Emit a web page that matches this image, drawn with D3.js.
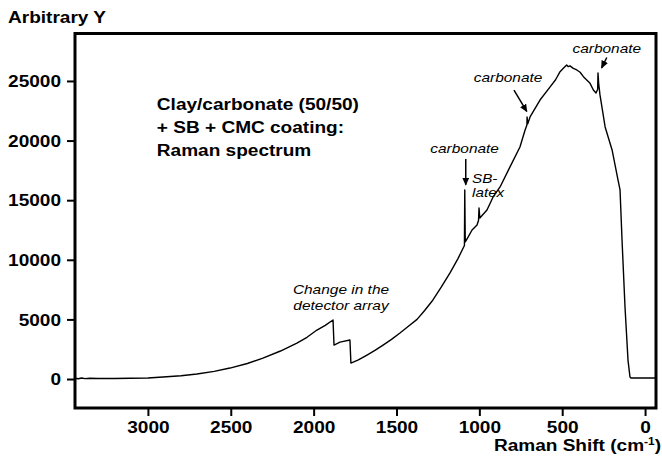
<!DOCTYPE html>
<html>
<head>
<meta charset="utf-8">
<script src="https://cdn.jsdelivr.net/npm/d3@7"></script>
<style>
body { margin: 0; background: #fff; }
svg { display: block; }
text { font-family: "Liberation Sans", Arial, sans-serif; fill: #000; }
.bold { font-weight: bold; font-size: 16px; }
.note { font-style: italic; font-size: 13px; }
.small { font-style: italic; font-size: 12px; }
</style>
</head>
<body>
<div id="chart"></div>
<script>
// spectrum: Raman shift (cm-1) and intensity
var ramanShift = [3440, 3420, 3400, 3380, 3350, 3300, 3200, 3109, 3000, 2909, 2800, 2704, 2600, 2505,
	2400, 2306, 2200, 2101, 2040, 1980, 1930, 1883, 1877, 1841, 1781, 1775, 1730, 1678, 1630, 1581,
	1530, 1479, 1430, 1376, 1330, 1280, 1230, 1177, 1129, 1090, 1088, 1085, 1068, 1044, 1014, 1005,
	1002, 997, 954, 917, 875, 815, 755, 724, 713, 712, 708, 694, 634, 573, 540, 513, 493, 473,
	463, 453, 433, 412, 392, 372, 352, 332, 312, 296, 286, 284, 280, 272, 241, 199, 163, 151, 139, 121,
	103, 91, 85, -66];
var intensity = [60, 20, 90, 30, 70, 40, 50, 60, 90, 170, 280, 420, 640, 920,
	1300, 1760, 2350, 3020, 3500, 4110, 4500, 4950, 2850, 3100, 3270, 1340, 1600, 2010, 2400, 2850,
	3330, 3860, 4400, 5000, 5750, 6630, 7700, 8900, 10100, 11200, 15860, 11500, 11900, 12500, 12920, 13300,
	14350, 13500, 14180, 15270, 16110, 17790, 19460, 20890, 21300, 21980, 21400, 21980, 23400, 24500, 25100, 25780, 26060, 26340,
	26200, 26260, 26060, 25920, 25730, 25360, 25080, 24800, 24240, 23990, 24300, 25670, 24800, 23830, 21140, 19210, 16690, 15860, 11660, 6040,
	1590, 170, 80, 80];

var xTicks = [3000, 2500, 2000, 1500, 1000, 500, 0];
var yTicks = [0, 5000, 10000, 15000, 20000, 25000];
var titleLines = ["Clay/carbonate (50/50)", "+ SB + CMC coating:", "Raman spectrum"];
var detectorLines = ["Change in the", "detector array"];
var latexLines = ["SB-", "latex"];

var SX = 1.19; // the original lettering is stretched sideways

var svg = d3.select("#chart").append("svg")
	.attr("width", 662)
	.attr("height", 460);

svg.append("defs").append("marker")
	.attr("id", "head")
	.attr("markerUnits", "userSpaceOnUse")
	.attr("markerWidth", 8)
	.attr("markerHeight", 7)
	.attr("refX", 7)
	.attr("refY", 3.5)
	.attr("orient", "auto")
	.append("path")
	.attr("d", "M0,0 L8,3.5 L0,7 Z")
	.attr("fill", "#000");

var x = d3.scaleLinear().domain([3440, -66]).range([75, 656]);
var y = d3.scaleLinear().domain([-2430, 28980]).range([408, 33.5]);

function label(str, px, py, anchor, cls) {
	return svg.append("text")
		.attr("class", cls)
		.attr("transform", "translate(" + px + "," + py + ") scale(" + SX + ",1)")
		.attr("text-anchor", anchor)
		.text(str);
}

// axes
var xAxis = svg.append("g")
	.attr("transform", "translate(0,408)")
	.call(d3.axisBottom(x).tickValues(xTicks).tickSize(8).tickFormat(d3.format("d")));
var yAxis = svg.append("g")
	.attr("transform", "translate(75,0)")
	.call(d3.axisLeft(y).tickValues(yTicks).tickSize(8).tickFormat(d3.format("d")));

[xAxis, yAxis].forEach(function(a) {
	a.select(".domain").remove();
	a.selectAll(".tick line").attr("stroke", "#000").attr("stroke-width", 2);
	a.selectAll(".tick text")
		.attr("class", "bold")
		.attr("font-family", null)
		.attr("font-size", null)
		.attr("transform", "scale(" + SX + ",1)");
});
xAxis.selectAll(".tick text").attr("y", 25).attr("dy", 0);
yAxis.selectAll(".tick text").attr("x", -14 / SX).attr("dy", "0.36em");

// spectrum
var pts = ramanShift.map(function(s, i) { return [s, intensity[i]]; });
var line = d3.line()
	.x(function(d) { return x(d[0]); })
	.y(function(d) { return y(d[1]); });

svg.append("path")
	.datum(pts)
	.attr("d", line)
	.attr("fill", "none")
	.attr("stroke", "#000")
	.attr("stroke-width", 1.4)
	.attr("stroke-linejoin", "round");

// frame
svg.append("rect")
	.attr("x", x.range()[0])
	.attr("y", y.range()[1])
	.attr("width", x.range()[1] - x.range()[0])
	.attr("height", y.range()[0] - y.range()[1])
	.attr("fill", "none")
	.attr("stroke", "#000")
	.attr("stroke-width", 3);

// axis titles
label("Arbitrary Y", 8, 23, "start", "bold");
var xt = label("Raman Shift (cm", 661, 451, "end", "bold");
xt.append("tspan").attr("font-size", "10px").attr("dy", -6).text("-1");
xt.append("tspan").attr("dy", 6).text(")");

// notes, placed in data units
titleLines.forEach(function(t, i) {
	label(t, x(2946), y(22570 - i * 1930), "start", "bold");
});
detectorLines.forEach(function(t, i) {
	label(t, x(1835), y(7090 - i * 1300), "middle", "note");
});
latexLines.forEach(function(t, i) {
	label(t, x(1044), y(16450 - i * 1180), "start", "small").attr("transform", function() {
		return d3.select(this).attr("transform").replace("scale(" + SX, "scale(1.27");
	});
});
label("carbonate", x(1089), y(18930), "middle", "note");
label("carbonate", x(827), y(24940), "middle", "note");
label("carbonate", x(231), y(27320), "middle", "note");

var arrows = [
	[1082, 18460, 1082, 16300],
	[791, 24240, 714, 22450],
	[231, 26970, 262, 26100]
];
svg.selectAll(".arrow")
	.data(arrows)
	.enter().append("line")
	.attr("class", "arrow")
	.attr("x1", function(d) { return x(d[0]); })
	.attr("y1", function(d) { return y(d[1]); })
	.attr("x2", function(d) { return x(d[2]); })
	.attr("y2", function(d) { return y(d[3]); })
	.attr("stroke", "#000")
	.attr("stroke-width", 1.5)
	.attr("marker-end", "url(#head)");
</script>
</body>
</html>
